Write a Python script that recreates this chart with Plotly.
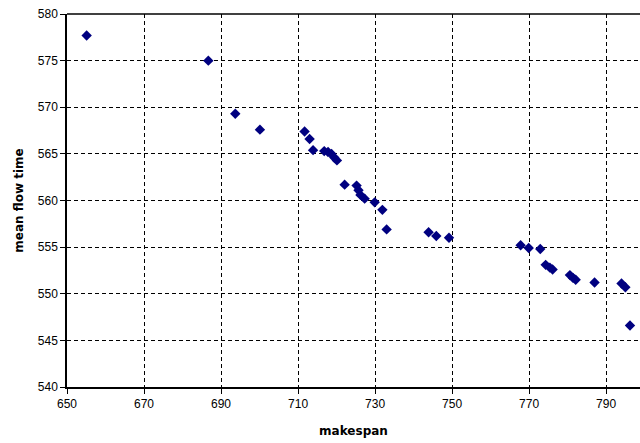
import plotly.graph_objects as go

makespan = [655.1, 686.7, 693.7, 700.1, 711.7, 713.0, 713.9, 716.8, 717.8, 718.7,
            719.4, 720.1, 722.1, 725.2, 725.7, 726.2, 727.3, 729.9, 731.9, 733.0,
            743.9, 745.9, 749.2, 767.8, 769.9, 772.9, 774.3, 775.4, 776.1, 780.6,
            781.4, 782.1, 787.0, 794.0, 795.0, 796.2]
mean_flow_time = [577.7, 575.0, 569.3, 567.6, 567.4, 566.6, 565.4, 565.3, 565.2, 565.0,
                  564.6, 564.3, 561.7, 561.6, 561.1, 560.6, 560.2, 559.8, 559.0, 556.9,
                  556.6, 556.2, 556.0, 555.2, 554.9, 554.8, 553.1, 552.8, 552.6, 552.0,
                  551.7, 551.5, 551.2, 551.1, 550.7, 546.6]

x_ticks = [650, 670, 690, 710, 730, 750, 770, 790]
y_ticks = [540, 545, 550, 555, 560, 565, 570, 575, 580]

fig = go.Figure(go.Scatter(
    x=makespan, y=mean_flow_time, mode="markers",
    marker=dict(symbol="diamond", size=8, color="#000080", line=dict(width=0)),
))

axis_common = dict(
    showline=True, linecolor="black", linewidth=1.5,
    ticks="outside", ticklen=5, tickcolor="black", tickwidth=1,
    showgrid=True, gridcolor="black", gridwidth=1, griddash="4px,3px",
    zeroline=False, tickfont=dict(family="Liberation Sans, Arial", size=12, color="black"),
)

fig.update_layout(
    width=640, height=443,
    margin=dict(l=67, r=0, t=14, b=56),
    paper_bgcolor="white", plot_bgcolor="white",
    showlegend=False,
    xaxis=dict(range=[650, 798.8], tickvals=x_ticks,
               title=dict(text="<b>makespan</b>", standoff=16,
                          font=dict(family="DejaVu Sans", size=12, color="black")),
               **axis_common),
    yaxis=dict(range=[540, 580], tickvals=y_ticks,
               title=dict(text="<b>mean flow time</b>", standoff=12,
                          font=dict(family="DejaVu Sans", size=12, color="black")),
               **axis_common),
    shapes=[dict(type="line", xref="paper", yref="paper", x0=0, x1=1, y0=1, y1=1,
                 line=dict(color="black", width=1.5))],
)

fig.write_html("out.html")
